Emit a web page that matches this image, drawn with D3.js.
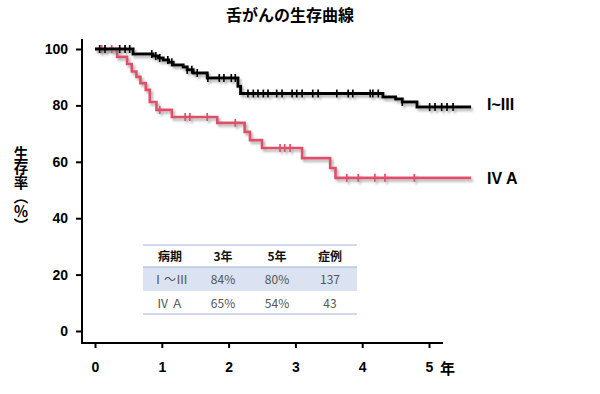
<!DOCTYPE html>
<html>
<head>
<meta charset="utf-8">
<script src="https://cdn.jsdelivr.net/npm/d3@7"></script>
<style>
  body { margin: 0; background: #fff; }
  text { font-family: "Liberation Sans", Arial, "Noto Sans CJK JP", sans-serif; }
  .jp { font-family: "Noto Sans CJK JP", sans-serif; }
</style>
</head>
<body>
<svg id="chart" width="600" height="394"></svg>
<script>
// 年・生存率の目盛り
var yearTicks = [0, 1, 2, 3, 4, 5];
var pctTicks = [0, 20, 40, 60, 80, 100];

// I~III 期（時間, 生存率）
var stageA = [
  [0, 100], [0.57, 98.2], [0.87, 97.5], [0.95, 96.8], [1.02, 96.1], [1.10, 95.3],
  [1.17, 94.3], [1.32, 93.6], [1.38, 92.6], [1.47, 91.5], [1.68, 89.7],
  [2.14, 86.8], [2.18, 84.2], [4.31, 83.0], [4.50, 82.3], [4.60, 81.2], [4.82, 79.4]
];
var stageAEnd = 5.63;
var stageACensor = [0.07, 0.15, 0.37, 0.45, 0.52, 0.85, 0.91, 0.97, 1.09, 1.15,
  1.38, 1.45, 1.53, 1.69, 1.86, 1.93, 2.04, 2.10, 2.29, 2.37, 2.44, 2.52, 2.59,
  2.72, 2.80, 2.95, 3.02, 3.10, 3.26, 3.34, 3.62, 3.79, 3.86, 4.12, 4.16, 4.24,
  4.60, 5.01, 5.09, 5.19, 5.27, 5.36];

// IV A 期
var stageB = [
  [0, 100], [0.33, 97.2], [0.48, 94.7], [0.55, 92.0], [0.62, 90.1], [0.68, 87.9],
  [0.76, 85.5], [0.82, 81.2], [0.92, 78.4], [1.15, 75.9], [1.83, 73.8],
  [2.24, 70.6], [2.32, 67.7], [2.50, 64.9], [3.10, 61.3], [3.52, 57.8], [3.60, 54.3]
];
var stageBEnd = 5.63;
var stageBCensor = [0.10, 0.25, 0.97, 1.35, 1.42, 1.68, 2.10, 2.77, 2.84, 2.92,
  3.77, 3.94, 4.19, 4.34, 4.78];

// 表
var tableHead = ["病期", "3年", "5年", "症例"];
var tableRows = [
  ["Ⅰ～Ⅲ", "84%", "80%", "137"],
  ["Ⅳ Ａ", "65%", "54%", "43"]
];

var svg = d3.select("#chart");

// 影
var defs = svg.append("defs");
var f = defs.append("filter").attr("id", "shadow")
  .attr("x", "-5%").attr("y", "-5%").attr("width", "115%").attr("height", "130%");
f.append("feDropShadow").attr("dx", 2).attr("dy", 2.5).attr("stdDeviation", 1.3)
  .attr("flood-color", "#777").attr("flood-opacity", 0.55);

var x = d3.scaleLinear().domain([0, 5]).range([95, 429]);
var y = d3.scaleLinear().domain([0, 100]).range([331, 49]);

// タイトル
svg.append("text").attr("class", "jp")
  .attr("x", 290).attr("y", 21).attr("text-anchor", "middle")
  .attr("font-size", 16).attr("font-weight", "bold")
  .text("舌がんの生存曲線");

// y軸
var yAxis = d3.axisLeft(y).tickValues(pctTicks).tickSize(6).tickPadding(8);
var gy = svg.append("g").attr("transform", "translate(82,0)").call(yAxis);
gy.select(".domain").remove();
gy.selectAll("line").attr("stroke", "#000").attr("stroke-width", 2);
gy.selectAll("text").attr("font-size", 14).attr("font-weight", "bold")
  .attr("font-family", "Liberation Sans, Arial, sans-serif").attr("fill", "#000");
svg.append("line").attr("x1", 82).attr("x2", 82).attr("y1", 39).attr("y2", 344)
  .attr("stroke", "#000").attr("stroke-width", 2);

// x軸
var xAxis = d3.axisBottom(x).tickValues(yearTicks).tickFormat(d3.format("d"))
  .tickSize(5).tickPadding(14);
var gx = svg.append("g").attr("transform", "translate(0,343)").call(xAxis);
gx.select(".domain").remove();
gx.selectAll("line").attr("stroke", "#000").attr("stroke-width", 2);
gx.selectAll("text").attr("font-size", 14).attr("font-weight", "bold")
  .attr("font-family", "Liberation Sans, Arial, sans-serif").attr("fill", "#000");
svg.append("line").attr("x1", 81).attr("x2", 443).attr("y1", 343).attr("y2", 343)
  .attr("stroke", "#000").attr("stroke-width", 2);
svg.append("text").attr("class", "jp")
  .attr("x", 440).attr("y", 374).attr("font-size", 15).attr("font-weight", "bold")
  .text("年");

// y軸ラベル（縦書き）
svg.append("text").attr("class", "jp")
  .attr("x", 21).attr("y", 146)
  .style("writing-mode", "vertical-rl")
  .attr("font-size", 14.5).attr("font-weight", "bold")
  .text("生存率（％）");

// 生存曲線
var line = d3.line()
  .x(function(d) { return x(d[0]); })
  .y(function(d) { return y(d[1]); })
  .curve(d3.curveStepAfter);

function valueAt(steps, t) {
  var v = steps[0][1];
  steps.forEach(function(s) { if (s[0] <= t) v = s[1]; });
  return v;
}

function drawCurve(steps, end, censor, color, w) {
  var pts = steps.concat([[end, steps[steps.length - 1][1]]]);
  var g = svg.append("g").attr("filter", "url(#shadow)");
  g.append("path").datum(pts)
    .attr("d", line)
    .attr("fill", "none").attr("stroke", color).attr("stroke-width", w);
  g.selectAll("line.c").data(censor).enter().append("line")
    .attr("x1", function(d) { return x(d); })
    .attr("x2", function(d) { return x(d); })
    .attr("y1", function(d) { return y(valueAt(steps, d)) - 4; })
    .attr("y2", function(d) { return y(valueAt(steps, d)) + 4; })
    .attr("stroke", color).attr("stroke-width", 1.7);
}

drawCurve(stageB, stageBEnd, stageBCensor, "#e0506b", 2.6);
drawCurve(stageA, stageAEnd, stageACensor, "#000", 3);

// 曲線ラベル
svg.append("text").attr("x", 487).attr("y", 110)
  .attr("font-size", 16).attr("font-weight", "bold").text("I~III");
svg.append("text").attr("x", 487).attr("y", 184)
  .attr("font-size", 16).attr("font-weight", "bold").text("IV A");

// 表
var colX = [170, 223, 277, 330];
var tbl = svg.append("g");
tbl.append("rect").attr("x", 143).attr("y", 267).attr("width", 214).attr("height", 24)
  .attr("fill", "#dbe2f1");
[245, 267, 314].forEach(function(yy) {
  tbl.append("line").attr("x1", 143).attr("x2", 357).attr("y1", yy).attr("y2", yy)
    .attr("stroke", "#a3b1d9").attr("stroke-width", 1.2);
});
tableHead.forEach(function(h, i) {
  tbl.append("text").attr("class", "jp")
    .attr("x", colX[i]).attr("y", 261).attr("text-anchor", "middle")
    .attr("font-size", 12).attr("font-weight", "bold").attr("fill", "#111")
    .text(h);
});
tableRows.forEach(function(row, r) {
  row.forEach(function(c, i) {
    tbl.append("text").attr("class", "jp")
      .attr("x", colX[i]).attr("y", 284 + r * 24).attr("text-anchor", "middle")
      .attr("font-size", 12).attr("fill", "#555")
      .text(c);
  });
});
</script>
</body>
</html>
